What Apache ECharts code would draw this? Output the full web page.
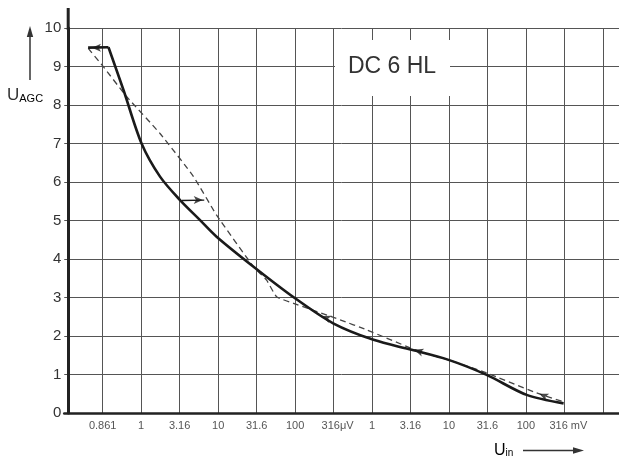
<!DOCTYPE html>
<html>
<head>
<meta charset="utf-8">
<script src="https://cdn.jsdelivr.net/npm/echarts@6/dist/echarts.min.js"></script>
<style>html,body{margin:0;padding:0;background:#fff;}#c{width:619px;height:461px;}</style>
</head>
<body>
<div id="c"></div>
<script>
// x positions are in "grid-line" units: line k carries tickLabels[k-1]
var tickLabels = ['0.861','1','3.16','10','31.6','100','316\u03bcV','1','3.16','10','31.6','100','316 mV'];
var yTicks = [0,1,2,3,4,5,6,7,8,9,10];
var solidTop = [[0.62,9.49],[1.15,9.5]];
var solidCurve = [[1.15,9.5],[1.54,8.39],[2.01,7.0],[2.49,6.14],[3.01,5.53],[3.53,5.01],[3.96,4.58],[4.92,3.80],[6.0,2.98],[6.99,2.33],[8.04,1.90],[9.03,1.64],[9.99,1.38],[10.98,0.99],[12.02,0.47],[12.98,0.25]];
var dashedCurve = [[0.625,9.47],[1.02,8.99],[1.62,8.22],[2.49,7.26],[3.36,6.14],[3.96,5.14],[4.92,3.80],[5.26,3.45],[5.52,3.02],[5.96,2.85],[7.17,2.42],[7.86,2.16],[9.25,1.59],[9.99,1.38],[10.98,1.04],[12.2,0.55],[12.98,0.29]];
var jumpLine = [[3.06,5.52],[3.64,5.53]];
// arrowheads: [x, y, rotation]
var arrows = [[0.72,9.49,90],[3.6,5.53,-90],[6.7,2.52,68],[9.1,1.64,72],[12.35,0.50,66]];

var chart = echarts.init(document.getElementById('c'), null, {renderer:'canvas'});
var font = 'Liberation Sans';
chart.setOption({
  backgroundColor:'#fff',
  animation:false,
  grid:{left:64.24, right:0, top:28, bottom:48, containLabel:false},
  xAxis:{
    type:'value', min:0, max:14.42, interval:1,
    axisLine:{show:true, lineStyle:{color:'#222', width:2.5}},
    axisTick:{show:false},
    axisLabel:{
      margin:7, color:'#555', fontSize:11, fontFamily:font,
      showMaxLabel:false, showMinLabel:false,
      formatter:function(v){
        var k = Math.round(v);
        if (Math.abs(v-k)>1e-6) return '';
        var t = tickLabels[k-1];
        if (!t) return '';
        if (t.indexOf('V')>=0) return '{u|'+t+'}';
        return t;
      },
      rich:{u:{padding:[0,0,0,8], fontSize:11, color:'#555', fontFamily:font}}
    },
    splitLine:{show:true, showMinLine:false, lineStyle:{color:'#555', width:1}}
  },
  yAxis:{
    type:'value', min:0, max:10, interval:1, offset:-4,
    axisLine:{show:true, lineStyle:{color:'#222', width:3}},
    axisTick:{show:false},
    axisLabel:{margin:7, color:'#333', fontSize:15, fontFamily:font,
      formatter:function(v){ return yTicks.indexOf(v)>=0 ? String(v) : ''; }},
    splitLine:{show:true, lineStyle:{color:'#555', width:1}}
  },
  series:[
    {type:'line', data:solidTop, symbol:'none', lineStyle:{color:'#1a1a1a', width:2.6}, z:5},
    {type:'line', data:solidCurve, symbol:'none', smooth:0.3, lineStyle:{color:'#1a1a1a', width:2.6}, z:5},
    {type:'line', data:dashedCurve, symbol:'none', smooth:0.15, lineStyle:{color:'#444', width:1.3, type:[6,4]}, z:4},
    {type:'line', data:jumpLine, symbol:'none', lineStyle:{color:'#1a1a1a', width:1.3}, z:5},
    {type:'scatter', data:arrows.map(function(a){return {value:[a[0],a[1]], symbolRotate:a[2]};}),
      symbol:'arrow', symbolSize:[6,9], itemStyle:{color:'#1a1a1a'}, z:6}
  ],
  graphic:[
    {type:'line', z:100, shape:{x1:68.2,y1:8,x2:68.2,y2:30}, style:{stroke:'#222', lineWidth:3}},
    {type:'rect', z:100, shape:{x:335,y:40,width:115,height:56}, style:{fill:'#fff'}},
    {type:'text', z:101, x:392, y:67, style:{text:'DC 6 HL', font:'23px "Liberation Sans"', fill:'#333', align:'center', verticalAlign:'middle'}},
    {type:'line', z:100, shape:{x1:30,y1:80,x2:30,y2:36}, style:{stroke:'#333', lineWidth:1.5}},
    {type:'polygon', z:100, shape:{points:[[30,26],[26.8,37],[33.2,37]]}, style:{fill:'#333'}},
    {type:'text', z:100, x:7, y:104, style:{
      text:'{u|U}{s|AGC}', verticalAlign:'bottom',
      rich:{u:{fontSize:17, fontFamily:font, fill:'#333', color:'#333'}, s:{fontSize:11, fontFamily:font, color:'#333', padding:[6,0,0,0]}}}},
    {type:'text', z:100, x:494, y:459, style:{
      text:'{u|U}{s|in}', verticalAlign:'bottom',
      rich:{u:{fontSize:16, fontFamily:font, color:'#333'}, s:{fontSize:10, fontFamily:font, color:'#333', padding:[5,0,0,0]}}}},
    {type:'line', z:100, shape:{x1:523,y1:450.5,x2:574,y2:450.5}, style:{stroke:'#333', lineWidth:1.5}},
    {type:'polygon', z:100, shape:{points:[[584,450.5],[573,447.3],[573,453.7]]}, style:{fill:'#333'}}
  ]
});
</script>
</body>
</html>
